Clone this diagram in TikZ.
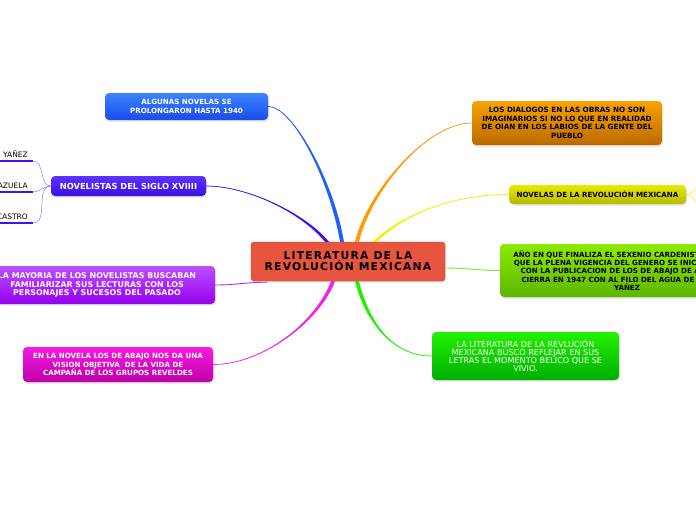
\documentclass[tikz,border=0pt]{standalone}
\usepackage{fontspec}
\setmainfont{DejaVu Sans}
\newfontfamily\titlefont[LetterSpace=11]{DejaVu Sans}
\usetikzlibrary{shadows, calc}
\definecolor{litred}{HTML}{E8553F}
\definecolor{litedge}{HTML}{C8432F}
\definecolor{orangetop}{HTML}{F7A300}
\definecolor{orangebot}{HTML}{BC6A00}
\definecolor{yellowtop}{HTML}{E6EB00}
\definecolor{yellowbot}{HTML}{B4BA00}
\definecolor{limetop}{HTML}{8CEB00}
\definecolor{limebot}{HTML}{5CB600}
\definecolor{greentop}{HTML}{22F200}
\definecolor{greenbot}{HTML}{00AE00}
\definecolor{bluetop}{HTML}{3C84FF}
\definecolor{bluebot}{HTML}{1A4CEA}
\definecolor{violettop}{HTML}{5C34FF}
\definecolor{violetbot}{HTML}{3810E0}
\definecolor{purpletop}{HTML}{BC50FF}
\definecolor{purplebot}{HTML}{9400EC}
\definecolor{magentatop}{HTML}{F81AE4}
\definecolor{magentabot}{HTML}{BE00A6}
\definecolor{blueline}{HTML}{1F60FF}
\definecolor{violetline}{HTML}{4212EA}
\definecolor{orangeline}{HTML}{FF9A00}
\definecolor{yellowline}{HTML}{F2F200}
\definecolor{limeline}{HTML}{84E22A}
\definecolor{greenline}{HTML}{22F000}
\definecolor{magentaline}{HTML}{F222E6}
\definecolor{purpleline}{HTML}{A634F2}
\definecolor{twigline}{HTML}{8A78F2}

% tapered branch: colour, start, out vector, in vector, end
\newcommand{\branch}[5]{%
  \fill[#1] ([xshift=-2pt]#2) .. controls +(#3) and +(#4) .. (#5)
    .. controls +(#4) and +(#3) .. ([xshift=2pt]#2) -- cycle;
  \draw[#1, line width=0.7pt] (#2) .. controls +(#3) and +(#4) .. (#5);
}

\begin{document}
\begin{tikzpicture}[x=1pt, y=-1pt,
    every node/.style={align=center, inner sep=2pt},
    topic/.style={rounded corners=4pt, text=white,
      font=\bfseries\fontsize{7.1}{8.4}\selectfont,
      drop shadow={opacity=0.22, shadow xshift=1pt, shadow yshift=-1.5pt}},
    darktopic/.style={topic, text=black},
    plaintopic/.style={topic, font=\fontsize{8.1}{8.1}\selectfont},
    central/.style={rounded corners=3pt, fill=litred, draw=litedge,
      minimum width=194pt, minimum height=39pt,
      font=\titlefont\bfseries\fontsize{10.8}{11.2}\selectfont,
      drop shadow={opacity=0.22, shadow xshift=1pt, shadow yshift=-1.5pt}},
    author/.style={font=\fontsize{7.5}{8}\selectfont, anchor=south east,
      inner xsep=5pt, inner ysep=3pt},
    uline/.style={draw=violetline, line width=2pt},
    twig/.style={draw=twigline, line width=0.5pt},
  ]
  \useasboundingbox (0,0) rectangle (696,520);
  \clip (0,0) rectangle (696,520);

  % main topic
  \node[central] (lit) at (348,261.5) {LITERATURA DE LA\\REVOLUCIÓN MEXICANA};

  % right side
  \node[darktopic, top color=orangetop, bottom color=orangebot,
    font=\bfseries\fontsize{7.2}{8.5}\selectfont,
    minimum width=190pt, minimum height=44pt] (dialogos) at (567,123)
    {LOS DIALOGOS EN LAS OBRAS NO SON\\IMAGINARIOS SI NO LO QUE EN REALIDAD\\DE OIAN EN LOS LABIOS DE LA GENTE DEL\\PUEBLO};
  \node[darktopic, top color=yellowtop, bottom color=yellowbot,
    minimum width=177pt, minimum height=19pt] (novelas) at (597.5,194.5)
    {NOVELAS DE LA REVOLUCIÓN MEXICANA};
  \node[darktopic, top color=limetop, bottom color=limebot,
    font=\bfseries\fontsize{7.1}{7.9}\selectfont,
    minimum width=254pt, minimum height=53pt] (anio) at (627,270.5)
    {AÑO EN QUE FINALIZA EL SEXENIO CARDENISTA, SE DICE\\QUE LA PLENA VIGENCIA DEL GENERO SE INICIA EN 1915\\CON LA PUBLICACION DE LOS DE ABAJO DE AZUELA Y\\CIERRA EN 1947 CON AL FILO DEL AGUA DE AGUSTÍN\\YAÑEZ};
  \node[plaintopic, top color=greentop, bottom color=greenbot,
    minimum width=187pt, minimum height=48pt] (reflejar) at (525.5,356)
    {LA LITERATURA DE LA REVLUCIÓN\\MEXICANA BUSCO REFLEJAR EN SUS\\LETRAS EL MOMENTO BELICO QUE SE\\VIVIO.};

  % left side
  \node[topic, top color=bluetop, bottom color=bluebot,
    minimum width=163pt, minimum height=27pt] (algunas) at (186.5,106.5)
    {ALGUNAS NOVELAS SE\\PROLONGARON HASTA 1940};
  \node[topic, top color=violettop, bottom color=violetbot,
    font=\bfseries\fontsize{8.3}{9}\selectfont,
    minimum width=155pt, minimum height=20pt] (novelistas) at (128.5,186)
    {NOVELISTAS DEL SIGLO XVIIII};
  \node[topic, top color=purpletop, bottom color=purplebot,
    font=\bfseries\fontsize{7.9}{8.7}\selectfont,
    minimum width=236pt, minimum height=38pt] (mayoria) at (97,285)
    {LA MAYORIA DE LOS NOVELISTAS BUSCABAN\\FAMILIARIZAR SUS LECTURAS CON LOS\\PERSONAJES Y SUCESOS DEL PASADO};
  \node[topic, top color=magentatop, bottom color=magentabot,
    minimum width=190pt, minimum height=35pt] (vision) at (118,364.5)
    {EN LA NOVELA LOS DE ABAJO NOS DA UNA\\VISION OBJETIVA \ DE LA VIDA DE\\CAMPAÑA DE LOS GRUPOS REVELDES};

  % authors under novelistas
  \node[author] (yanez) at (33,161) {AGUSTÍN YAÑEZ};
  \node[author] (azuela) at (33,192) {MARIANO AZUELA};
  \node[author] (castro) at (33,223) {CASTRO};
  \foreach \n in {yanez, azuela, castro}
    \draw[uline] ([xshift=-20pt]\n.south west) -- (\n.south east);
  \foreach \n in {yanez, azuela, castro}
    \draw[twig] (novelistas.west) to[out=180, in=0] (\n.south east);

  % branch roots on the main topic
  \coordinate (rBlue) at ([xshift=-6pt]lit.north);
  \coordinate (rViolet) at ([xshift=-21pt]lit.north);
  \coordinate (rOrange) at ([xshift=9pt]lit.north);
  \coordinate (rYellow) at ([xshift=27pt]lit.north);
  \coordinate (rMagenta) at ([xshift=-15pt]lit.south);
  \coordinate (rGreen) at ([xshift=9pt]lit.south);
  \coordinate (rPurple) at ([xshift=-81pt, yshift=-1pt]lit.south);
  \coordinate (rLime) at ([yshift=-6.5pt]lit.east);

  \branch{blueline}{rBlue}{-10,-60}{25,0}{algunas.east}
  \branch{violetline}{rViolet}{-25,-30}{40,0}{novelistas.east}
  \branch{orangeline}{rOrange}{12,-50}{-45,0}{dialogos.west}
  \branch{yellowline}{rYellow}{25,-25}{-60,0}{novelas.west}
  \branch{magentaline}{rMagenta}{-15,40}{50,0}{vision.east}
  \branch{greenline}{rGreen}{10,40}{-40,0}{reflejar.west}
  \draw[purpleline, line width=0.9pt] (rPurple) .. controls +(-20,0) and +(20,0) .. (mayoria.east);
  \draw[limeline, line width=0.9pt] (rLime) .. controls +(20,0) and +(-20,0) .. (anio.west);

  % sub-branches leaving the page
  \coordinate (offUp) at (702,184);
  \coordinate (offDown) at (702,206);
  \draw[yellowline, line width=0.6pt] (novelas.east) to[out=0, in=200] (offUp);
  \draw[yellowline, line width=0.6pt] (novelas.east) to[out=0, in=160] (offDown);
\end{tikzpicture}
\end{document}
